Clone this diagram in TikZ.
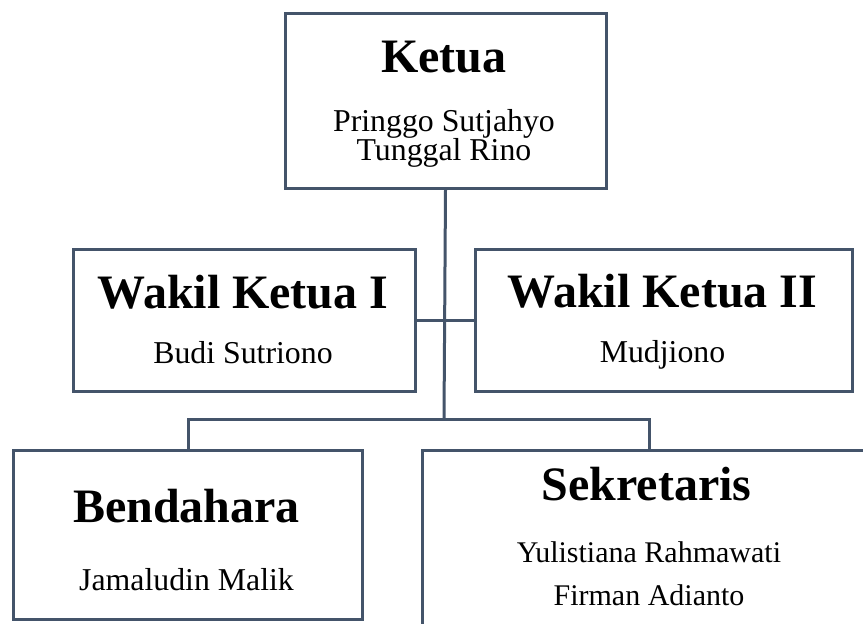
\documentclass[tikz,border=0pt]{standalone}
\usepackage{fontspec}
\setmainfont{Liberation Serif}
\definecolor{linecol}{HTML}{44546A}
\tikzset{
  orgbox/.style={draw=linecol, line width=3pt, rectangle, inner sep=0pt, anchor=north west, fill=white},
  conn/.style={draw=linecol, line width=3pt},
  title/.style={anchor=base, inner sep=0pt, font=\bfseries\fontsize{48}{56}\selectfont},
  person/.style={anchor=base, inner sep=0pt, font=\fontsize{31.8}{36}\selectfont},
}
\begin{document}
\begin{tikzpicture}[x=1pt,y=-1pt]
\useasboundingbox[fill=white] (0,0) rectangle (863,624);
% boxes
\node[orgbox, minimum width=321pt, minimum height=175pt] (ketua) at (283.5,12) {};
\node[orgbox, minimum width=342pt, minimum height=142pt] (w1) at (72,247.5) {};
\node[orgbox, minimum width=377pt, minimum height=142pt] (w2) at (474,247.5) {};
\node[orgbox, minimum width=349pt, minimum height=169pt] (bend) at (12,449) {};
\node[orgbox, minimum width=454pt, minimum height=200pt] (sek) at (421,449) {};
% junction
\coordinate (j) at (444,419);
% connectors
\draw[conn] (ketua.south) -- (j);
\draw[conn] (w1.east) -- (w2.west);
\draw[conn] (bend.north) -- (bend.north |- j) -- (sek.north |- j) -- (sek.north);
% texts
\node[title] (t1) at (444,72) {Ketua};
\node[person] (p1a) at (444,131) {Pringgo Sutjahyo};
\node[person] (p1b) at (444,160) {Tunggal Rino};
\node[title] (t2) at (243,308) {Wakil Ketua I};
\node[person] (p2) at (243,363) {Budi Sutriono};
\node[title] (t3) at (662.5,307) {Wakil Ketua II};
\node[person] (p3) at (662.5,362) {Mudjiono};
\node[title] (t4) at (186.5,522) {Bendahara};
\node[person] (p4) at (186.5,590) {Jamaludin Malik};
\node[title] (t5) at (646.5,500) {Sekretaris};
\node[person, font=\fontsize{30}{36}\selectfont] (p5a) at (649,562) {Yulistiana Rahmawati};
\node[person, font=\fontsize{30}{36}\selectfont] (p5b) at (649,605) {Firman Adianto};
\end{tikzpicture}
\end{document}
